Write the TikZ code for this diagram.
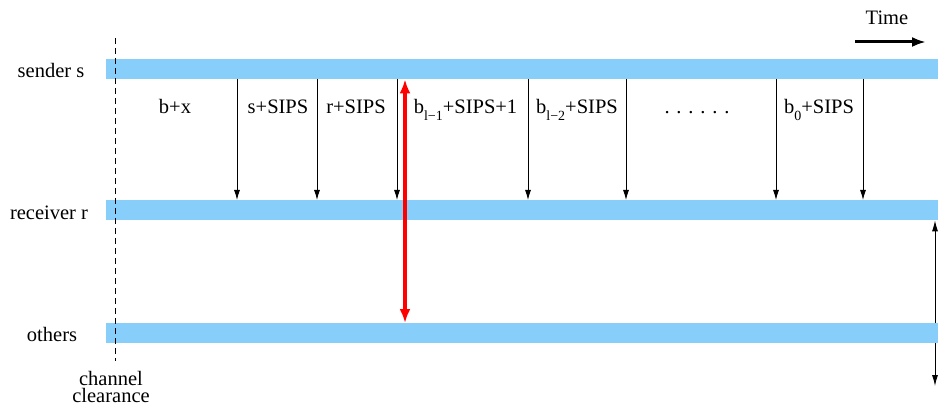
\documentclass[tikz,border=0pt]{standalone}
\usepackage{fontspec}
\setmainfont{Liberation Serif}
\usetikzlibrary{arrows.meta,backgrounds}
\definecolor{barblue}{RGB}{135,206,250}
\definecolor{redarr}{RGB}{255,0,0}
\newcommand{\lowsub}[1]{\raisebox{-7pt}{\fontsize{14}{14}\selectfont #1}}
\tikzset{
  bar/.style={fill=barblue, draw=none, rectangle, anchor=north west, minimum width=832pt, minimum height=20pt, inner sep=0pt},
  txt/.style={font=\fontsize{20.5}{24}\selectfont, anchor=base, inner sep=0pt},
  msg/.style={draw=black, line width=0.9pt, -{Latex[length=10pt,width=6pt]}},
  redmsg/.style={draw=redarr, line width=4pt, {Latex[length=14pt,width=11pt]}-{Latex[length=14pt,width=11pt]}},
  dur/.style={draw=black, line width=0.9pt, {Latex[length=11pt,width=6pt]}-{Latex[length=11pt,width=6pt]}},
  timearr/.style={draw=black, line width=3pt, -{Latex[length=14pt,width=10pt]}},
  clear/.style={draw=black, line width=0.8pt, dash pattern=on 6pt off 4pt}
}
\begin{document}
\begin{tikzpicture}[x=1pt,y=-1pt]
\useasboundingbox (0,0) rectangle (938,409);
% bars
\node[bar] (sender) at (106,59) {};
\node[bar] (receiver) at (106,200) {};
\node[bar] (others) at (106,323) {};
% row labels
\node[txt] (ls) at (51,78) {sender s};
\node[txt] (lr) at (49,219) {receiver r};
\node[txt] (lo) at (52,341) {others};
\node[txt, align=center, font=\fontsize{20.5}{16.5}\selectfont] (lc) at (111,402) {channel\\clearance};
% time
\node[txt] (time) at (887,25) {Time};
\coordinate (t1) at (855,42);
\coordinate (t2) at (926,42);
\draw[timearr] (t1) -- (t2);
% channel clearance line
\coordinate (c1) at (115,38);
\coordinate (c2) at (115,361);
\draw[clear] (c1) -- (c2);
% message arrows
\foreach \n/\x in {1/237,2/317,3/397,4/528,5/626,6/776,7/863}{
  \coordinate (a\n) at (\x,0);
  \draw[msg] (sender.south -| a\n) -- (receiver.north -| a\n);
}
% red arrow
\coordinate (ra) at (405,0);
\draw[redmsg] (sender.south -| ra) -- (others.north -| ra);
% right duration arrow (behind bars)
\coordinate (da) at (935,0);
\coordinate (db) at (935,386);
\begin{pgfonlayer}{background}
\draw[dur] (receiver.south -| da) -- (db);
\end{pgfonlayer}
% labels
\node[txt] (m0) at (175,114) {b+x};
\node[txt] (m1) at (278,114) {s+SIPS};
\node[txt] (m2) at (356,114) {r+SIPS};
\node[txt] (m3) at (465.5,114) {b\lowsub{l−1}+SIPS+1};
\node[txt] (m4) at (577,114) {b\lowsub{l−2}+SIPS};
\node[txt] (m5) at (697,114) {. . . . . .};
\node[txt] (m6) at (819,114) {b\lowsub{0}+SIPS};
\end{tikzpicture}
\end{document}
